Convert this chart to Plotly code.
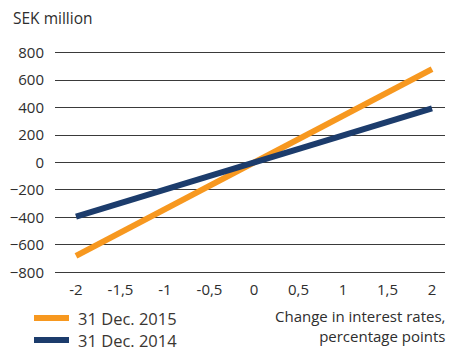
import plotly.graph_objects as go

# Interest-rate sensitivity (SEK million) by change in rates
rate_change = [-2, -1.5, -1, -0.5, 0, 0.5, 1, 1.5, 2]
sek_2015 = [-680, -510, -340, -170, 0, 170, 340, 510, 680]
sek_2014 = [-395, -296, -198, -99, 0, 99, 198, 296, 395]

series_names = ["31 Dec. 2015", "31 Dec. 2014"]
series_colors = ["#F7981F", "#1C3C6C"]

x_ticks = [-2, -1.5, -1, -0.5, 0, 0.5, 1, 1.5, 2]
x_tick_text = [str(v).replace(".", ",") for v in x_ticks]
y_ticks = [-800, -600, -400, -200, 0, 200, 400, 600, 800]

FONT = "Open Sans, Noto Sans, sans-serif"
TEXT = "#2e2e2e"

W, H = 450, 353
L, R, T, B = 55, 5, 50, 78
pw, ph = W - L - R, H - T - B

def px_x(p):
    return (p - L) / pw

def px_y(p):
    return 1 - (p - T) / ph

fig = go.Figure()
for name, vals, col in zip(series_names, [sek_2015, sek_2014], series_colors):
    fig.add_trace(go.Scatter(x=rate_change, y=vals, mode="lines", name=name,
                             line=dict(color=col, width=6), showlegend=False))

# legend drawn beneath the plot
leg_y = [318, 340]
for name, col, yy in zip(series_names, series_colors, leg_y):
    fig.add_shape(type="line", xref="paper", yref="paper",
                  x0=px_x(34), x1=px_x(69), y0=px_y(yy), y1=px_y(yy),
                  line=dict(color=col, width=6))
    fig.add_annotation(xref="paper", yref="paper", x=px_x(76), y=px_y(yy),
                       text=name, showarrow=False, xanchor="left", yanchor="middle",
                       font=dict(family=FONT, size=16.5, color="#3a3632"))

fig.add_annotation(xref="paper", yref="paper", x=px_x(448), y=px_y(304),
                   text="Change in interest rates,<br>percentage points",
                   showarrow=False, xanchor="right", yanchor="top", align="right",
                   font=dict(family=FONT, size=15, color=TEXT))

fig.add_annotation(xref="paper", yref="paper", x=px_x(11), y=px_y(18),
                   text="SEK million", showarrow=False, xanchor="left", yanchor="middle",
                   font=dict(family=FONT, size=15.5, color=TEXT))

fig.update_layout(
    width=W, height=H,
    margin=dict(l=L, r=R, t=T, b=B),
    paper_bgcolor="white", plot_bgcolor="white",
    font=dict(family=FONT, size=15, color=TEXT),
    xaxis=dict(range=[-2.236, 2.146], tickvals=x_ticks, ticktext=x_tick_text,
               showgrid=False, zeroline=False, showline=False, ticks="",
               tickfont=dict(size=15, color=TEXT), ticklabelstandoff=4),
    yaxis=dict(range=[-820, 820], tickvals=y_ticks, showgrid=True,
               gridcolor="#3a3a3a", gridwidth=1, zeroline=False, showline=False,
               ticks="", ticklabelstandoff=10, tickfont=dict(size=15, color=TEXT)),
)

fig.write_html("out.html")
